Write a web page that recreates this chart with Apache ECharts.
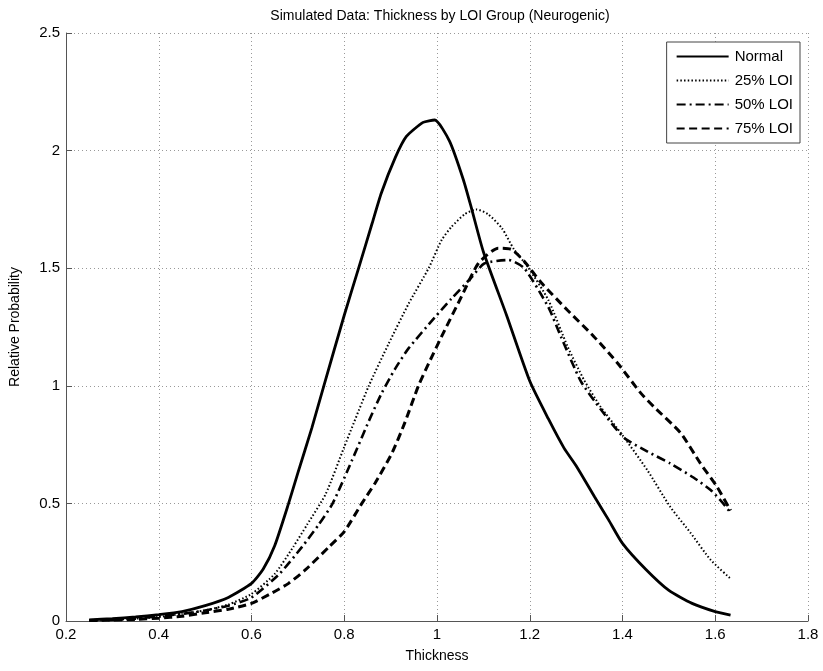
<!DOCTYPE html>
<html>
<head>
<meta charset="utf-8">
<script src="https://cdn.jsdelivr.net/npm/echarts@6/dist/echarts.min.js"></script>
<style>
  html, body { margin: 0; padding: 0; background: #fff; }
  #chart { width: 823px; height: 671px; }
</style>
</head>
<body>
<div id="chart"></div>
<script>
// Thickness density curves per LOI group
const normalX = [0.25, 0.3, 0.35, 0.4, 0.45, 0.5, 0.55, 0.6, 0.625, 0.65, 0.68, 0.7, 0.73, 0.756, 0.8, 0.831, 0.86, 0.88, 0.91, 0.934, 0.97, 0.995, 1.027, 1.057, 1.075, 1.1, 1.15, 1.2, 1.24, 1.274, 1.3, 1.34, 1.37, 1.4, 1.45, 1.5, 1.55, 1.6, 1.633];
const normalY = [0.005, 0.01, 0.017, 0.027, 0.04, 0.065, 0.1, 0.16, 0.22, 0.32, 0.5, 0.63, 0.82, 1.0, 1.3, 1.5, 1.69, 1.82, 1.97, 2.06, 2.12, 2.13, 2.04, 1.875, 1.75, 1.57, 1.3, 1.02, 0.86, 0.735, 0.66, 0.527, 0.43, 0.33, 0.22, 0.13, 0.075, 0.04, 0.025];

const loi25X = [0.25, 0.3, 0.35, 0.4, 0.45, 0.5, 0.55, 0.6, 0.65, 0.69, 0.72, 0.76, 0.8, 0.853, 0.896, 0.939, 0.982, 1.01, 1.031, 1.06, 1.085, 1.11, 1.14, 1.166, 1.196, 1.24, 1.282, 1.317, 1.353, 1.4, 1.454, 1.503, 1.547, 1.59, 1.633];
const loi25Y = [0.002, 0.005, 0.01, 0.017, 0.03, 0.045, 0.07, 0.115, 0.2, 0.315, 0.41, 0.54, 0.74, 1.0, 1.18, 1.35, 1.5, 1.62, 1.675, 1.73, 1.75, 1.73, 1.67, 1.58, 1.505, 1.365, 1.165, 1.025, 0.91, 0.79, 0.64, 0.485, 0.374, 0.26, 0.18];

const loi50X = [0.25, 0.3, 0.35, 0.4, 0.45, 0.5, 0.55, 0.6, 0.66, 0.709, 0.745, 0.775, 0.816, 0.853, 0.881, 0.909, 0.939, 0.995, 1.031, 1.074, 1.102, 1.154, 1.188, 1.24, 1.267, 1.31, 1.353, 1.403, 1.454, 1.503, 1.553, 1.59, 1.617, 1.633];
const loi50Y = [0.003, 0.005, 0.01, 0.02, 0.03, 0.045, 0.065, 0.1, 0.2, 0.315, 0.41, 0.5, 0.68, 0.85, 0.97, 1.07, 1.16, 1.29, 1.37, 1.46, 1.52, 1.535, 1.5, 1.335, 1.21, 1.02, 0.9, 0.78, 0.72, 0.67, 0.61, 0.557, 0.5, 0.46];

const loi75X = [0.25, 0.3, 0.35, 0.4, 0.45, 0.5, 0.55, 0.6, 0.645, 0.68, 0.716, 0.767, 0.8, 0.838, 0.866, 0.902, 0.93, 0.96, 0.982, 1.01, 1.053, 1.089, 1.132, 1.16, 1.188, 1.224, 1.282, 1.338, 1.39, 1.439, 1.468, 1.525, 1.568, 1.604, 1.633];
const loi75Y = [0.002, 0.004, 0.007, 0.012, 0.02, 0.035, 0.05, 0.075, 0.12, 0.16, 0.217, 0.315, 0.38, 0.5, 0.585, 0.71, 0.84, 1.0, 1.095, 1.21, 1.38, 1.52, 1.585, 1.58, 1.53, 1.44, 1.32, 1.21, 1.095, 0.97, 0.91, 0.8, 0.67, 0.57, 0.47];

const seriesNames = ['Normal', '25% LOI', '50% LOI', '75% LOI'];
const xTicks = [0.2, 0.4, 0.6, 0.8, 1, 1.2, 1.4, 1.6, 1.8];
const yTicks = [0, 0.5, 1, 1.5, 2, 2.5];

const pairs = (xs, ys) => xs.map((x, i) => [x, ys[i]]);

const FONT = 'Liberation Sans, Arial, sans-serif';

const lineStyles = [
  { color: '#000', width: 2.8, type: 'solid' },
  { color: '#000', width: 2, type: [1.5, 2.2] },
  { color: '#000', width: 2.6, type: [9, 4, 2, 4] },
  { color: '#000', width: 3, type: [8, 4.5] }
];

const dataSets = [
  pairs(normalX, normalY),
  pairs(loi25X, loi25Y),
  pairs(loi50X, loi50Y),
  pairs(loi75X, loi75Y)
];

const chart = echarts.init(document.getElementById('chart'), null, { renderer: 'canvas' });

chart.setOption({
  animation: false,
  backgroundColor: '#fff',
  title: {
    text: 'Simulated Data: Thickness by LOI Group (Neurogenic)',
    left: 435,
    textAlign: 'center',
    top: 4,
    textStyle: { fontFamily: FONT, fontSize: 14, fontWeight: 'normal', color: '#000' }
  },
  legend: {
    data: seriesNames,
    orient: 'vertical',
    right: 23,
    top: 42,
    itemWidth: 52,
    itemHeight: 12,
    itemGap: 9,
    padding: [7, 7, 7, 9],
    backgroundColor: '#fff',
    borderColor: '#444',
    borderWidth: 1,
    borderRadius: 0,
    itemStyle: { opacity: 0 },
    textStyle: { fontFamily: FONT, fontSize: 15, color: '#000', padding: [0, 0, 0, 1] }
  },
  grid: { left: 63, right: 15, top: 33, bottom: 50, containLabel: false },
  xAxis: {
    type: 'value',
    min: 0.2,
    max: 1.8,
    interval: 0.2,
    name: 'Thickness',
    nameLocation: 'middle',
    nameGap: 28,
    nameTextStyle: { fontFamily: FONT, fontSize: 14, color: '#000' },
    axisLine: { show: true, onZero: false, lineStyle: { color: '#555', width: 1 } },
    axisTick: { show: true, inside: true, length: 6, lineStyle: { color: '#555' } },
    axisLabel: {
      fontFamily: FONT, fontSize: 15, color: '#000', margin: 6,
      formatter: v => String(+v.toFixed(1))
    },
    splitLine: { show: true, lineStyle: { color: '#999', type: [1, 3], width: 1 } }
  },
  yAxis: {
    type: 'value',
    min: 0,
    max: 2.5,
    interval: 0.5,
    name: 'Relative Probability',
    nameLocation: 'middle',
    nameGap: 44,
    nameRotate: 90,
    nameTextStyle: { fontFamily: FONT, fontSize: 14, color: '#000' },
    axisLine: { show: true, lineStyle: { color: '#555', width: 1 } },
    axisTick: { show: true, inside: true, length: 6, lineStyle: { color: '#555' } },
    axisLabel: {
      fontFamily: FONT, fontSize: 15, color: '#000', margin: 6,
      formatter: v => String(+v.toFixed(1))
    },
    splitLine: { show: true, lineStyle: { color: '#999', type: [1, 3], width: 1 } }
  },
  series: seriesNames.map((name, i) => ({
    name,
    type: 'line',
    data: dataSets[i],
    showSymbol: false,
    symbol: 'none',
    smooth: 0.2,
    itemStyle: { color: '#000' },
    lineStyle: lineStyles[i],
    z: 10 - i
  }))
});
</script>
</body>
</html>
